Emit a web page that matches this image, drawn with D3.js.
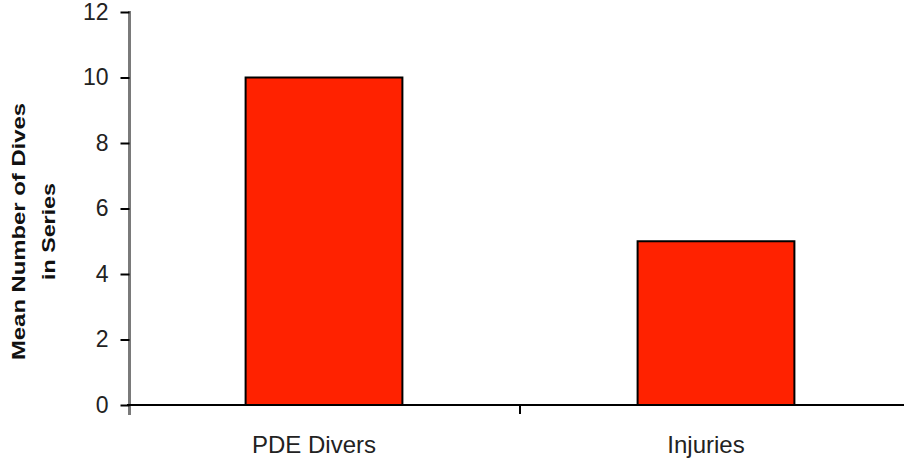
<!DOCTYPE html>
<html><head><meta charset="utf-8">
<script src="https://cdn.jsdelivr.net/npm/d3@7"></script>
<style>body{margin:0;background:#fff}svg{display:block}</style>
</head><body>
<svg id="c" width="904" height="459"></svg>
<script>
const categories = ["PDE Divers", "Injuries"];
const values = [10, 5];
const yTicks = [0, 2, 4, 6, 8, 10, 12];
const yTitle = ["Mean Number of Dives", "in Series"];

const svg = d3.select("#c");
const font = "Liberation Sans, Arial, Helvetica, sans-serif";
const y = d3.scaleLinear().domain([0, 12]).range([405, 12]);
const x = d3.scaleBand().domain(categories).range([128, 912]).paddingInner(0.6).paddingOuter(0.3);

// bars
svg.selectAll("rect.bar").data(values).enter().append("rect")
  .attr("x", (d, i) => x(categories[i]))
  .attr("y", d => y(d))
  .attr("width", x.bandwidth())
  .attr("height", d => y(0) - y(d))
  .attr("fill", "#ff2200")
  .attr("stroke", "#000").attr("stroke-width", 2);

// y axis
const ya = svg.append("g").attr("transform", "translate(129.5,0)")
  .call(d3.axisLeft(y).tickValues(yTicks).tickSize(9).tickPadding(12));
ya.select(".domain").attr("d", `M0,${y(12)-1}V415`).attr("stroke", "#7a7a7a").attr("stroke-width", 3);
ya.selectAll(".tick line").attr("stroke", "#000").attr("stroke-width", 2);
ya.selectAll(".tick text").attr("font-family", font).attr("font-size", 23).attr("fill", "#222");

// x axis
svg.append("line").attr("x1", 127).attr("x2", 904).attr("y1", y(0)).attr("y2", y(0))
  .attr("stroke", "#000").attr("stroke-width", 2);
const mid = (x(categories[0]) + x.bandwidth() + x(categories[1])) / 2;
svg.append("line").attr("x1", mid).attr("x2", mid).attr("y1", y(0)).attr("y2", 414)
  .attr("stroke", "#000").attr("stroke-width", 2);
svg.selectAll("text.xl").data(categories).enter().append("text")
  .attr("x", d => x(d) + x.bandwidth() / 2 - 10)
  .attr("y", 453)
  .attr("text-anchor", "middle")
  .attr("font-family", font).attr("font-size", 24).attr("fill", "#222")
  .text(d => d);

// y title
const t = svg.append("text").attr("transform", "translate(0,231.5) rotate(-90)")
  .attr("text-anchor", "middle").attr("font-family", font).attr("font-weight", "bold")
  .attr("font-size", 18).attr("fill", "#111");
t.append("tspan").attr("x", 0).attr("y", 25).attr("textLength", 257).attr("lengthAdjust", "spacingAndGlyphs").text(yTitle[0]);
t.append("tspan").attr("x", 0).attr("y", 55).attr("textLength", 97).attr("lengthAdjust", "spacingAndGlyphs").text(yTitle[1]);
</script>
</body></html>
